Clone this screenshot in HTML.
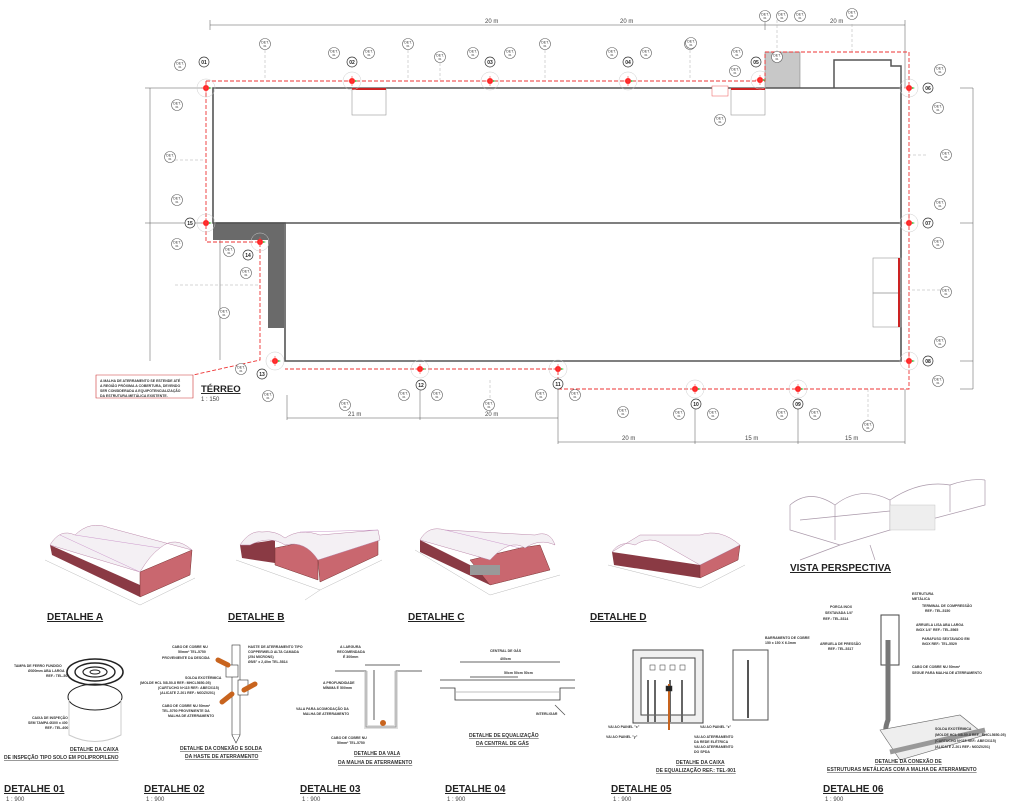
<!DOCTYPE html>
<html><head><meta charset="utf-8"><style>
body{margin:0;background:#fff;}
svg{display:block;font-family:"Liberation Sans",sans-serif;}
.t{font-size:3.5px;fill:#333;font-weight:bold}
.h{font-size:10px;font-weight:bold;fill:#222;text-decoration:underline}
.s{font-size:6px;fill:#444}
.c{font-size:5px;font-weight:bold;fill:#333;text-decoration:underline}
</style></head><body>
<svg width="1024" height="805" viewBox="0 0 1024 805" xmlns="http://www.w3.org/2000/svg">
<defs>
<g id="det"><circle r="5.5" fill="#fff" stroke="#666" stroke-width="0.6"/><text y="-0.5" text-anchor="middle" font-size="3.5" fill="#333">DET.</text><text y="3" text-anchor="middle" font-size="2.8" fill="#333">01</text></g>
<g id="gp"><circle r="9" fill="none" stroke="#ccc" stroke-width="0.5"/><circle r="3" fill="#f22"/><path d="M-5 0H5M0 -5V5" stroke="#f44" stroke-width="0.6"/><path d="M3 -1l3 1l-3 1z" fill="#4b4"/></g>
</defs>
<!-- dimension lines -->
<g stroke="#555" stroke-width="0.5" fill="none">
<path d="M210 25H765M765 25H905"/>
<path d="M210 20V30M765 20V30M905 20V88"/>
<path d="M150 88V361M145 88H210M145 223H210"/>
<path d="M973 88V389M960 88H973M960 223H973M960 361H973M960 389H973"/>
<path d="M287 418H558M420 390V420M287 395V420"/>
<path d="M558 442H905M695 400V444M798 400V444M558 380V444M905 389V444"/>
<path d="M220 240V360"/>
</g>
<g class="s" font-size="4">
<text x="485" y="23">20 m</text><text x="620" y="23">20 m</text><text x="830" y="23">20 m</text>
<text x="348" y="416">21 m</text><text x="485" y="416">20 m</text>
<text x="622" y="440">20 m</text><text x="745" y="440">15 m</text><text x="845" y="440">15 m</text>
</g>
<!-- dashed leaders -->
<g stroke="#aaa" stroke-width="0.5" stroke-dasharray="3,2" fill="none">
<path d="M265 50V80M408 50V80M545 50V80M690 50V80M852 24V52M440 58V80M777 20V52"/>
<path d="M175 160H205M175 285H260M926 155H909M940 290H909"/>
<path d="M490 380V410M868 389V428"/>
</g>
<!-- building -->
<rect x="765" y="52" width="35" height="36" fill="#c8c8c8" stroke="#777" stroke-width="0.5"/>
<path d="M834 88V60H891V66H901V88" fill="none" stroke="#555" stroke-width="1.5"/>
<path d="M213 223H284V328H268V240H213Z" fill="#6a6a6a"/>
<g fill="none" stroke="#555" stroke-width="1.6">
<path d="M213 88H901V361H285V223H213Z"/>
<path d="M213 223H901"/>
</g>
<g fill="none" stroke="#999" stroke-width="0.6">
<rect x="352" y="88" width="34" height="27"/><rect x="731" y="88" width="34" height="27"/>
<rect x="873" y="258" width="28" height="35"/><rect x="873" y="293" width="28" height="34"/>
</g>
<g stroke="#c22" stroke-width="2"><path d="M352 89H386M731 89H765M899 258V327"/></g>
<!-- red dashed perimeter -->
<g fill="none" stroke="#e33" stroke-width="0.9" stroke-dasharray="4,2">
<path d="M206 81H765V52H909V389H558V369H285"/>
<path d="M206 81V242H260V360L193 375"/>
</g>
<path d="M193 375V398H96V375Z" fill="#fff" stroke="#c33" stroke-width="0.6"/>
<text x="100" y="382" class="t" font-size="3.2">A MALHA DE ATERRAMENTO SE ESTENDE ATÉ</text>
<text x="100" y="387" class="t" font-size="3.2">A REGIÃO PRÓXIMA A COBERTURA, DEVENDO</text>
<text x="100" y="392" class="t" font-size="3.2">SER CONSIDERADA A EQUIPOTENCIALIZAÇÃO</text>
<text x="100" y="397" class="t" font-size="3.2">DA ESTRUTURA METÁLICA EXISTENTE.</text>
<rect x="712" y="86" width="16" height="10" fill="#fff" stroke="#e55" stroke-width="0.5"/>
<!-- ground points -->
<use href="#gp" x="206" y="88"/><use href="#gp" x="352" y="81"/><use href="#gp" x="490" y="81"/><use href="#gp" x="628" y="81"/><use href="#gp" x="760" y="80"/>
<use href="#gp" x="909" y="88"/><use href="#gp" x="909" y="223"/><use href="#gp" x="909" y="361"/>
<use href="#gp" x="206" y="223"/><use href="#gp" x="260" y="242"/><use href="#gp" x="275" y="361"/>
<use href="#gp" x="420" y="369"/><use href="#gp" x="558" y="369"/><use href="#gp" x="695" y="389"/><use href="#gp" x="798" y="389"/>
<!-- numbers -->
<g font-size="5" font-weight="bold" text-anchor="middle" fill="#222">
<g fill="#fff" stroke="#333" stroke-width="0.7">
<circle cx="204" cy="62" r="5"/><circle cx="352" cy="62" r="5"/><circle cx="490" cy="62" r="5"/><circle cx="628" cy="62" r="5"/><circle cx="756" cy="62" r="5"/>
<circle cx="928" cy="88" r="5"/><circle cx="928" cy="223" r="5"/><circle cx="928" cy="361" r="5"/>
<circle cx="190" cy="223" r="5"/><circle cx="248" cy="255" r="5"/><circle cx="262" cy="374" r="5"/>
<circle cx="421" cy="385" r="5"/><circle cx="558" cy="384" r="5"/><circle cx="696" cy="404" r="5"/><circle cx="798" cy="404" r="5"/>
</g>
<text x="204" y="64">01</text><text x="352" y="64">02</text><text x="490" y="64">03</text><text x="628" y="64">04</text><text x="756" y="64">05</text>
<text x="928" y="90">06</text><text x="928" y="225">07</text><text x="928" y="363">08</text>
<text x="190" y="225">15</text><text x="248" y="257">14</text><text x="262" y="376">13</text>
<text x="421" y="387">12</text><text x="558" y="386">11</text><text x="696" y="406">10</text><text x="798" y="406">09</text>
</g>
<!-- DET tags -->
<g>
<use href="#det" x="265" y="44"/><use href="#det" x="408" y="44"/><use href="#det" x="545" y="44"/><use href="#det" x="690" y="44"/>
<use href="#det" x="765" y="16"/><use href="#det" x="782" y="16"/><use href="#det" x="800" y="16"/><use href="#det" x="852" y="14"/>
<use href="#det" x="334" y="53"/><use href="#det" x="369" y="53"/><use href="#det" x="473" y="53"/><use href="#det" x="510" y="53"/>
<use href="#det" x="612" y="53"/><use href="#det" x="646" y="53"/><use href="#det" x="440" y="57"/><use href="#det" x="777" y="57"/>
<use href="#det" x="691" y="43"/><use href="#det" x="737" y="53"/><use href="#det" x="735" y="71"/><use href="#det" x="720" y="120"/>
<use href="#det" x="180" y="65"/><use href="#det" x="177" y="105"/><use href="#det" x="170" y="157"/><use href="#det" x="177" y="200"/><use href="#det" x="177" y="244"/>
<use href="#det" x="229" y="251"/><use href="#det" x="246" y="273"/><use href="#det" x="224" y="313"/>
<use href="#det" x="940" y="70"/><use href="#det" x="938" y="108"/><use href="#det" x="946" y="155"/><use href="#det" x="940" y="204"/><use href="#det" x="938" y="243"/>
<use href="#det" x="946" y="292"/><use href="#det" x="940" y="342"/><use href="#det" x="938" y="381"/>
<use href="#det" x="241" y="369"/><use href="#det" x="268" y="396"/><use href="#det" x="404" y="395"/><use href="#det" x="437" y="395"/><use href="#det" x="345" y="405"/><use href="#det" x="489" y="405"/>
<use href="#det" x="541" y="395"/><use href="#det" x="575" y="395"/><use href="#det" x="623" y="412"/><use href="#det" x="679" y="414"/><use href="#det" x="713" y="414"/>
<use href="#det" x="782" y="414"/><use href="#det" x="815" y="414"/><use href="#det" x="868" y="426"/>
</g>
<text x="201" y="392" font-size="9.5" font-weight="bold" fill="#222" text-decoration="underline">TÉRREO</text>
<text x="201" y="401" class="s" font-size="5">1 : 150</text>

<!-- perspectives -->
<g stroke-width="0.5">
<!-- A -->
<polygon points="50,545 140,585 140,597 52,555" fill="#8a3a44"/>
<polygon points="140,572 192,550 190,575 140,597" fill="#c9676f" stroke="#733"/>
<path d="M50,545 Q60,528 75,535 Q90,520 110,528 L192,550 Q175,535 160,548 Q150,555 140,572 Z" fill="#f4f0f4" stroke="#b8a"/>
<path d="M75,535 L160,548 M60,535 L140,572" stroke="#c9c" fill="none"/>
<path d="M45,560 L140,605 L195,578" stroke="#bbb" fill="none"/>
<!-- B -->
<polygon points="240,545 275,540 275,563 242,558" fill="#8a3a44"/>
<polygon points="275,548 300,543 318,548 318,580 275,565" fill="#c9676f" stroke="#733"/>
<polygon points="318,560 378,540 378,555 320,582" fill="#c9676f" stroke="#733"/>
<path d="M240,545 Q250,530 262,532 Q275,530 285,538 Q300,528 320,535 L378,530 L380,540 L318,560 Q305,540 285,545 Q270,535 250,545 Z" fill="#f4f0f4" stroke="#b8a"/>
<path d="M300,532 L378,530" stroke="#c9c" fill="none"/>
<path d="M236,560 L320,590 L382,560 M320,590 L305,600" stroke="#bbb" fill="none"/>
<!-- C -->
<polygon points="420,540 490,575 490,585 420,552" fill="#8a3a44"/>
<polygon points="470,560 520,548 540,545 550,570 490,585" fill="#c9676f" stroke="#733"/>
<path d="M420,540 Q428,525 445,530 L535,535 Q550,530 555,545 Q540,538 525,548 Q510,538 490,560 Z" fill="#f4f0f4" stroke="#b8a"/>
<path d="M445,530 L520,548" stroke="#c9c" fill="none"/>
<rect x="470" y="565" width="30" height="10" fill="#999"/>
<path d="M415,550 L490,595 L560,575" stroke="#bbb" fill="none"/>
<!-- D -->
<polygon points="612,552 700,565 700,578 614,565" fill="#8a3a44"/>
<polygon points="700,565 740,545 738,560 700,578" fill="#c9676f" stroke="#733"/>
<path d="M612,552 Q620,540 635,545 Q650,535 665,545 L700,565 L740,545 Q720,528 700,535 L640,535 Z" fill="#f4f0f4" stroke="#b8a"/>
<path d="M608,565 L700,588 L745,565" stroke="#bbb" fill="none"/>
</g>
<g fill="none" stroke="#a9a" stroke-width="0.7">
<path d="M790,505 Q810,488 835,505 Q860,485 890,500 Q920,480 950,485 Q970,478 985,480"/>
<path d="M790,505 V530 L840,545 L890,530 L985,505 V480"/>
<path d="M835,505 V540 M890,500 V530 M950,485 V512"/>
<path d="M800,520 850,515 900,510 M870,545 L875,560 M840,545 L800,560"/>
</g>
<rect x="890" y="505" width="45" height="25" fill="#eee" stroke="#bbb" stroke-width="0.4"/>
<text x="790" y="571" class="h" font-size="9">VISTA PERSPECTIVA</text>
<text x="47" y="620" class="h">DETALHE A</text><text x="228" y="620" class="h">DETALHE B</text>
<text x="408" y="620" class="h">DETALHE C</text><text x="590" y="620" class="h">DETALHE D</text>

<!-- detail 01 -->
<g fill="none" stroke="#222">
<ellipse cx="95" cy="672" rx="28" ry="13" stroke-width="1.6"/>
<ellipse cx="95" cy="672" rx="20" ry="9" stroke-width="1.4"/><ellipse cx="95" cy="672" rx="12" ry="5" stroke-width="1.2"/><ellipse cx="95" cy="672" rx="5" ry="2" stroke-width="1"/>
<ellipse cx="95" cy="697" rx="27" ry="13" stroke-width="1"/>
<path d="M69 700V735Q95 748 121 735V700" stroke="#ccc"/>
</g>
<g class="t" font-size="3"><text x="14" y="667">TAMPA DE FERRO FUNDIDO</text><text x="28" y="672">Ø300mm ABA LARGA</text><text x="46" y="677">REF.: TEL-500</text>
<text x="32" y="719">CAIXA DE INSPEÇÃO</text><text x="28" y="724">SEM TAMPA Ø300 x 400</text><text x="45" y="729">REF.: TEL-600</text></g>
<text x="70" y="751" class="c">DETALHE DA CAIXA</text><text x="4" y="759" class="c">DE INSPEÇÃO TIPO SOLO EM POLIPROPILENO</text>
<!-- detail 02 -->
<g stroke="#333" fill="#fff" stroke-width="0.6">
<rect x="232" y="645" width="8" height="90"/><path d="M232 735l4 8l4-8"/>
<rect x="226" y="665" width="12" height="12"/><rect x="238" y="680" width="10" height="15"/>
</g>
<g stroke="#c8641e" stroke-width="5" stroke-linecap="round"><path d="M218 660L228 665M244 690L255 684M222 702L232 694"/></g>
<g class="t" font-size="3"><text x="172" y="648">CABO DE COBRE NU</text><text x="178" y="653">50mm² TEL-5750</text><text x="162" y="659">PROVENIENTE DA DESCIDA</text>
<text x="248" y="648">HASTE DE ATERRAMENTO TIPO</text><text x="248" y="653">COPPERWELD ALTA CAMADA</text><text x="248" y="658">(254 MICRONS)</text><text x="248" y="663">Ø5/8" x 2,40m TEL-5814</text>
<text x="185" y="679">SOLDA EXOTÉRMICA</text><text x="140" y="684">(MOLDE HCL 5/8-50-8 REF.: MHCL5650-05)</text><text x="158" y="689">(CARTUCHO Nº115 REF.: ABEC0115)</text><text x="160" y="694">(ALICATE Z-201 REF.: N0DZ0201)</text>
<text x="162" y="707">CABO DE COBRE NU 50mm²</text><text x="162" y="712">TEL-5750 PROVENIENTE DA</text><text x="168" y="717">MALHA DE ATERRAMENTO</text></g>
<text x="180" y="750" class="c">DETALHE DA CONEXÃO E SOLDA</text><text x="185" y="758" class="c">DA HASTE DE ATERRAMENTO</text>
<!-- detail 03 -->
<g fill="none" stroke="#333" stroke-width="0.8">
<path d="M335 671H366V727H396V671H422"/><path d="M365 665H400"/><path d="M374 670V720"/>
</g>
<path d="M366 671v56h30v-56" fill="none" stroke="#ccc" stroke-width="4" opacity="0.6"/>
<circle cx="383" cy="723" r="3" fill="#c8641e"/>
<g class="t" font-size="3"><text x="340" y="648">A LARGURA</text><text x="337" y="653">RECOMENDADA</text><text x="343" y="658">É 300mm</text>
<text x="323" y="684">A PROFUNDIDADE</text><text x="323" y="689">MÍNIMA É 500mm</text>
<text x="296" y="710">VALA PARA ACOMODAÇÃO DA</text><text x="303" y="715">MALHA DE ATERRAMENTO</text>
<text x="331" y="739">CABO DE COBRE NU</text><text x="337" y="744">50mm² TEL-5750</text></g>
<text x="354" y="755" class="c">DETALHE DA VALA</text><text x="338" y="764" class="c">DA MALHA DE ATERRAMENTO</text>
<!-- detail 04 -->
<g fill="none" stroke="#333" stroke-width="0.8">
<path d="M440 680H575M440 688H455V700H560V688H575"/><path d="M455 692H560" stroke="#aaa"/><path d="M460 662H560M470 677h48"/>
<path d="M555 705l10 10" stroke="#555"/>
</g>
<g class="t" font-size="3"><text x="490" y="652">CENTRAL DE GÁS</text><text x="500" y="660">400cm</text><text x="504" y="674">50cm 50cm 50cm</text><text x="536" y="715">INTERLIGAR</text></g>
<text x="469" y="737" class="c">DETALHE DE EQUALIZAÇÃO</text><text x="476" y="745" class="c">DA CENTRAL DE GÁS</text>
<!-- detail 05 -->
<rect x="633" y="650" width="70" height="73" fill="#f0f0f0" stroke="#444"/>
<rect x="641" y="658" width="54" height="57" fill="#fff" stroke="#444"/>
<g stroke="#666" stroke-width="2"><path d="M648 680V722M655 680V722M670 680V722M682 680V722"/></g>
<path d="M669 684V730" stroke="#c8641e" stroke-width="2"/>
<g fill="#fff" stroke="#333" stroke-width="0.5"><rect x="650" y="665" width="5" height="5"/><rect x="660" y="665" width="5" height="5"/><rect x="670" y="665" width="5" height="5"/><rect x="680" y="665" width="5" height="5"/><rect x="666" y="686" width="6" height="5" fill="#222"/></g>
<rect x="733" y="650" width="35" height="70" fill="none" stroke="#555"/><path d="M748 660V718" stroke="#555" stroke-width="2"/>
<g class="t" font-size="3"><text x="765" y="639">BARRAMENTO DE COBRE</text><text x="765" y="644">150 x 150 X 6.3mm</text>
<text x="608" y="728">VAI AO PAINEL "x"</text><text x="700" y="728">VAI AO PAINEL "z"</text><text x="606" y="738">VAI AO PAINEL "y"</text>
<text x="694" y="738">VAI AO ATERRAMENTO</text><text x="694" y="743">DA REDE ELÉTRICA</text><text x="694" y="748">VAI AO ATERRAMENTO</text><text x="694" y="753">DO SPDA</text></g>
<text x="676" y="764" class="c">DETALHE DA CAIXA</text><text x="656" y="772" class="c">DE EQUALIZAÇÃO REF.: TEL-901</text>
<!-- detail 06 -->
<rect x="881" y="615" width="18" height="50" fill="#fff" stroke="#444"/>
<path d="M888 640V720Q880 740 900 745" fill="none" stroke="#777" stroke-width="5"/>
<path d="M880 730 L960 715 L985 735 L900 760 Z" fill="#eee" stroke="#666" stroke-width="0.6"/>
<path d="M890 752 L985 730" stroke="#999" stroke-width="5"/>
<g class="t" font-size="3"><text x="912" y="595">ESTRUTURA</text><text x="912" y="600">METÁLICA</text><text x="922" y="607">TERMINAL DE COMPRESSÃO</text><text x="925" y="612">REF.: TEL-5150</text>
<text x="830" y="608">PORCA INOX</text><text x="825" y="614">SEXTAVADA 1/4"</text><text x="823" y="620">REF.: TEL-5314</text>
<text x="916" y="626">ARRUELA LISA ABA LARGA</text><text x="916" y="631">INOX 1/4" REF.: TEL-5565</text>
<text x="922" y="640">PARAFUSO SEXTAVADO EM</text><text x="922" y="645">INOX REF.: TEL-5529</text>
<text x="820" y="645">ARRUELA DE PRESSÃO</text><text x="828" y="650">REF.: TEL-5317</text>
<text x="912" y="668">CABO DE COBRE NU 50mm²</text><text x="912" y="674">SEGUE PARA MALHA DE ATERRAMENTO</text>
<text x="935" y="730">SOLDA EXOTÉRMICA</text><text x="935" y="736">(MOLDE HCL 5/8-50-8 REF.: MHCL5650-05)</text><text x="935" y="742">(CARTUCHO Nº115 REF.: ABEC0115)</text><text x="935" y="748">(ALICATE Z-201 REF.: N0DZ0201)</text></g>
<text x="875" y="763" class="c">DETALHE DA CONEXÃO DE</text><text x="827" y="771" class="c">ESTRUTURAS METÁLICAS COM A MALHA DE ATERRAMENTO</text>
<!-- bottom titles -->
<g class="h"><text x="4" y="792">DETALHE 01</text><text x="144" y="792">DETALHE 02</text><text x="300" y="792">DETALHE 03</text><text x="445" y="792">DETALHE 04</text><text x="611" y="792">DETALHE 05</text><text x="823" y="792">DETALHE 06</text></g>
<g class="s" font-size="5"><text x="6" y="801">1 : 900</text><text x="146" y="801">1 : 900</text><text x="302" y="801">1 : 900</text><text x="447" y="801">1 : 900</text><text x="613" y="801">1 : 900</text><text x="825" y="801">1 : 900</text></g>
</svg>
</body></html>
